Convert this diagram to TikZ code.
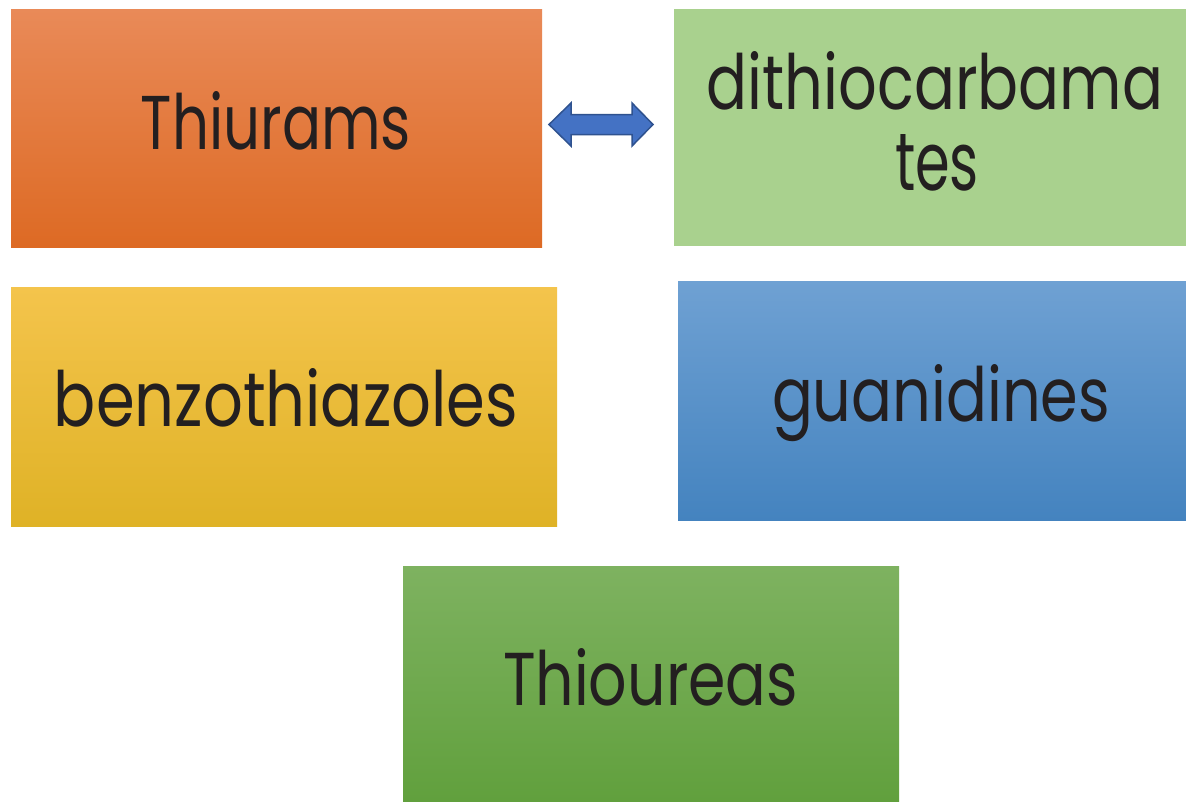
\documentclass[tikz,border=0pt]{standalone}
\usepackage{fontspec}
\setmainfont{Poppins}
\usepackage{graphicx}
\definecolor{txt}{HTML}{231F20}
\definecolor{orT}{HTML}{E98A58}\definecolor{orM}{HTML}{EC7A30}\definecolor{orB}{HTML}{DD6A24}
\definecolor{lgF}{HTML}{A9D18E}
\definecolor{yeT}{HTML}{F4C44C}\definecolor{yeM}{HTML}{F4C020}\definecolor{yeB}{HTML}{DFB226}
\definecolor{blT}{HTML}{6FA1D3}\definecolor{blM}{HTML}{5A95CE}\definecolor{blB}{HTML}{4483BF}
\definecolor{grT}{HTML}{7EB260}\definecolor{grM}{HTML}{6AA840}\definecolor{grB}{HTML}{61A03D}
\definecolor{arF}{HTML}{4472C4}\definecolor{arD}{HTML}{2F528F}
\newcommand{\fitlbl}[3]{\resizebox{#1pt}{#2pt}{\fontsize{78}{90}\selectfont #3}}
\tikzset{
  box/.style={rectangle, inner sep=0pt, outer sep=0pt, draw=none, anchor=north west},
  lbl/.style={inner sep=0pt, outer sep=0pt, anchor=base, text=txt},
  arrowshape/.style={fill=arF, draw=arD, line width=1.5pt, line join=miter},
}
\begin{document}
\begin{tikzpicture}[x=1pt,y=-1pt]
\useasboundingbox (0,0) rectangle (1186,801);
\fill[white] (0,0) rectangle (1186,801);
% boxes
\node[box, minimum width=531pt, minimum height=238pt, top color=orT, middle color=orM, bottom color=orB] (thiurams) at (11,9) {};
\node[box, minimum width=512pt, minimum height=237pt, fill=lgF] (dithio) at (674,9) {};
\node[box, minimum width=546pt, minimum height=239pt, top color=yeT, middle color=yeM, bottom color=yeB] (benzo) at (11,287) {};
\node[box, minimum width=508pt, minimum height=239pt, top color=blT, middle color=blM, bottom color=blB] (guan) at (678,281) {};
\node[box, minimum width=496pt, minimum height=235pt, top color=grT, middle color=grM, bottom color=grB] (thiou) at (403,566) {};
% labels
\node[lbl] (tThiurams) at (276,149) {\fitlbl{270}{58}{Thiurams}};
\node[lbl] (tDithioA) at (935,109) {\fitlbl{456}{58}{dithiocarbama}};
\node[lbl] (tDithioB) at (937,190) {\fitlbl{84}{56}{tes}};
\node[lbl] (tBenzo) at (286,426) {\fitlbl{464}{58}{benzothiazoles}};
\node[lbl] (tGuan) at (941,421) {\fitlbl{338}{57}{guanidines}};
\node[lbl] (tThiou) at (650.5,705) {\fitlbl{295}{57}{Thioureas}};
% double block arrow
\draw[arrowshape] (549,124.5) -- (571,103) -- (571,114.5) -- (632,114.5) -- (632,103)
  -- (653,124.5) -- (632,146) -- (632,134.5) -- (571,134.5) -- (571,146) -- cycle;
\end{tikzpicture}
\end{document}
